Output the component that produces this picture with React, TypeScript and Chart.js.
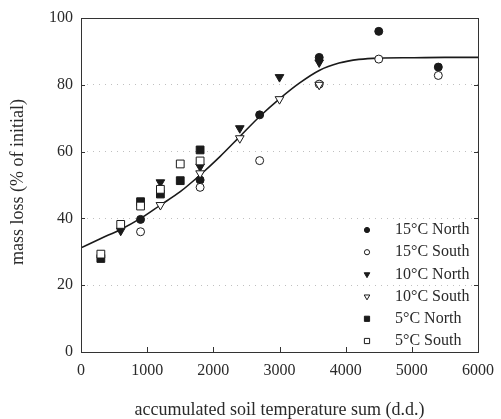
import React, { useEffect, useRef } from "react";
import { Chart, registerables } from "chart.js";

Chart.register(...registerables);

// ---- data ----
const x15 = [900, 1800, 2700, 3600, 4500, 5400];
const north15 = [39.7, 51.5, 71, 88.2, 96, 85.3];
const south15 = [36, 49.3, 57.3, 80.2, 87.7, 82.8];

const x10N = [600, 1200, 1800, 2400, 3000, 3600];
const north10 = [36.3, 50.8, 55.5, 67, 82.3, 86.7];
const x10S = [1200, 1800, 2400, 3000, 3600];
const south10 = [44, 53.5, 64, 75.7, 80];

const x5N = [300, 900, 1200, 1500, 1800];
const north5 = [28, 45, 47.3, 51.3, 60.5];
const x5S = [300, 600, 900, 1200, 1500, 1800];
const south5 = [29.3, 38.2, 43.7, 48.7, 56.3, 57.2];

const curveX = [0, 300, 600, 900, 1200, 1500, 1800, 2100, 2400, 2700, 3000, 3300, 3600, 3900, 4200, 4500, 5000, 5500, 6000];
const curveY = [31.2, 34, 36.7, 40, 44, 48, 53, 58.5, 64.5, 70.5, 75.8, 80.5, 84.3, 86.5, 87.6, 88, 88.1, 88.2, 88.2];

const seriesLabels = ["15°C North", "15°C South", "10°C North", "10°C South", "5°C North", "5°C South"];
const xTitle = "accumulated soil temperature sum (d.d.)";
const yTitle = "mass loss (% of initial)";

const FONT = "'Liberation Serif', 'Times New Roman', serif";
const INK = "#1a1a1a";
const TEXT = "#2a2a2a";

const pts = (xs: number[], ys: number[]) => xs.map((x, i) => ({ x, y: ys[i] }));

type Style = { shape: "circle" | "tri" | "rect"; filled: boolean };
const styles: Style[] = [
  { shape: "circle", filled: true },
  { shape: "circle", filled: false },
  { shape: "tri", filled: true },
  { shape: "tri", filled: false },
  { shape: "rect", filled: true },
  { shape: "rect", filled: false },
];

function drawMarker(ctx: CanvasRenderingContext2D, s: Style, x: number, y: number, size: number) {
  ctx.save();
  ctx.beginPath();
  if (s.shape === "circle") {
    ctx.arc(x, y, size, 0, Math.PI * 2);
  } else if (s.shape === "rect") {
    ctx.rect(x - size, y - size, size * 2, size * 2);
  } else {
    const r = size * 1.25;
    ctx.moveTo(x - r * 0.866, y - r * 0.5);
    ctx.lineTo(x + r * 0.866, y - r * 0.5);
    ctx.lineTo(x, y + r);
    ctx.closePath();
  }
  ctx.fillStyle = s.filled ? INK : "#fff";
  ctx.fill();
  ctx.lineWidth = 1;
  ctx.strokeStyle = INK;
  ctx.stroke();
  ctx.restore();
}

const decorPlugin = {
  id: "decor",
  afterDraw(chart: any) {
    const { ctx, chartArea: a, scales } = chart;
    ctx.save();
    // frame
    ctx.strokeStyle = "#333";
    ctx.lineWidth = 1;
    ctx.strokeRect(Math.round(a.left) + 0.5, Math.round(a.top) + 0.5, Math.round(a.right - a.left), Math.round(a.bottom - a.top));
    // inside ticks
    ctx.beginPath();
    for (let v = 1000; v < 6000; v += 1000) {
      const px = Math.round(scales.x.getPixelForValue(v)) + 0.5;
      ctx.moveTo(px, a.bottom);
      ctx.lineTo(px, a.bottom - 5);
    }
    for (let v = 20; v < 100; v += 20) {
      const py = Math.round(scales.y.getPixelForValue(v)) + 0.5;
      ctx.moveTo(a.left, py);
      ctx.lineTo(a.left + 4, py);
      ctx.moveTo(a.right, py);
      ctx.lineTo(a.right - 4, py);
    }
    ctx.stroke();

    // legend
    const mx = 367;
    const tx = 395;
    const y0 = 230;
    ctx.font = `16px ${FONT}`;
    ctx.textBaseline = "middle";
    ctx.textAlign = "left";
    seriesLabels.forEach((lab, i) => {
      const y = y0 + i * 22.2;
      drawMarker(ctx, styles[i], mx, y, 2.6);
      ctx.fillStyle = TEXT;
      ctx.fillText(lab, tx, y);
    });

    // axis titles
    ctx.fillStyle = TEXT;
    ctx.font = `18px ${FONT}`;
    ctx.textAlign = "center";
    ctx.textBaseline = "middle";
    ctx.fillText(xTitle, (a.left + a.right) / 2, 410);
    ctx.save();
    ctx.translate(18, 182);
    ctx.rotate(-Math.PI / 2);
    ctx.fillText(yTitle, 0, 0);
    ctx.restore();
    ctx.restore();
  },
};

function pointOpts(i: number) {
  const s = styles[i];
  const base: any = {
    backgroundColor: s.filled ? INK : "#ffffff",
    borderColor: INK,
    borderWidth: 1,
    showLine: false,
    order: 6 - i,
  };
  if (s.shape === "circle") {
    base.pointStyle = "circle";
    base.pointRadius = 4;
  } else if (s.shape === "tri") {
    base.pointStyle = "triangle";
    base.pointRadius = 5;
    base.pointRotation = 180;
  } else {
    base.pointStyle = "rect";
    base.pointRadius = 5.5;
  }
  base.pointHoverRadius = base.pointRadius;
  return base;
}

export default function App() {
  const ref = useRef<HTMLCanvasElement | null>(null);
  useEffect(() => {
    if (!ref.current) return;
    const seriesData = [
      pts(x15, north15),
      pts(x15, south15),
      pts(x10N, north10),
      pts(x10S, south10),
      pts(x5N, north5),
      pts(x5S, south5),
    ];
    const chart = new Chart(ref.current, {
      type: "scatter",
      data: {
        datasets: [
          {
            label: "fit",
            data: pts(curveX, curveY),
            showLine: true,
            borderColor: INK,
            borderWidth: 1.6,
            pointRadius: 0,
            cubicInterpolationMode: "monotone",
            order: 20,
          } as any,
          ...seriesData.map((d, i) => ({ label: seriesLabels[i], data: d, ...pointOpts(i) })),
        ],
      },
      options: {
        animation: false,
        responsive: false,
        events: [],
        layout: { padding: { top: 18, right: 23, left: 0, bottom: 0 } },
        plugins: { legend: { display: false }, tooltip: { enabled: false } },
        scales: {
          x: {
            type: "linear",
            min: 0,
            max: 6000,
            ticks: {
              stepSize: 1000,
              padding: 9,
              color: TEXT,
              font: { family: FONT, size: 16 },
              maxRotation: 0,
              callback: (v: any) => String(v),
            },
            grid: { display: false, drawTicks: false },
            border: { display: false },
            afterFit: (s: any) => { s.height = 67; s.paddingRight = 0; s.paddingLeft = 0; },
          },
          y: {
            min: 0,
            max: 100,
            ticks: { stepSize: 20, padding: 8, color: TEXT, font: { family: FONT, size: 16 } },
            grid: {
              drawTicks: false,
              color: (c: any) => (c.tick && c.tick.value > 0 && c.tick.value < 100 ? "#c0c0c0" : "rgba(0,0,0,0)"),
              lineWidth: 1,
            },
            border: { display: false, dash: [1, 5] },
            afterFit: (s: any) => { s.width = 81; s.paddingTop = 0; s.paddingBottom = 0; },
          },
        },
      } as any,
      plugins: [decorPlugin],
    });
    return () => chart.destroy();
  }, []);
  return (
    <div style={{ position: "fixed", left: 0, top: 0, width: 501, height: 419, background: "#fff" }}>
      <canvas ref={ref} width={501} height={419} style={{ width: 501, height: 419, display: "block" }} />
    </div>
  );
}
